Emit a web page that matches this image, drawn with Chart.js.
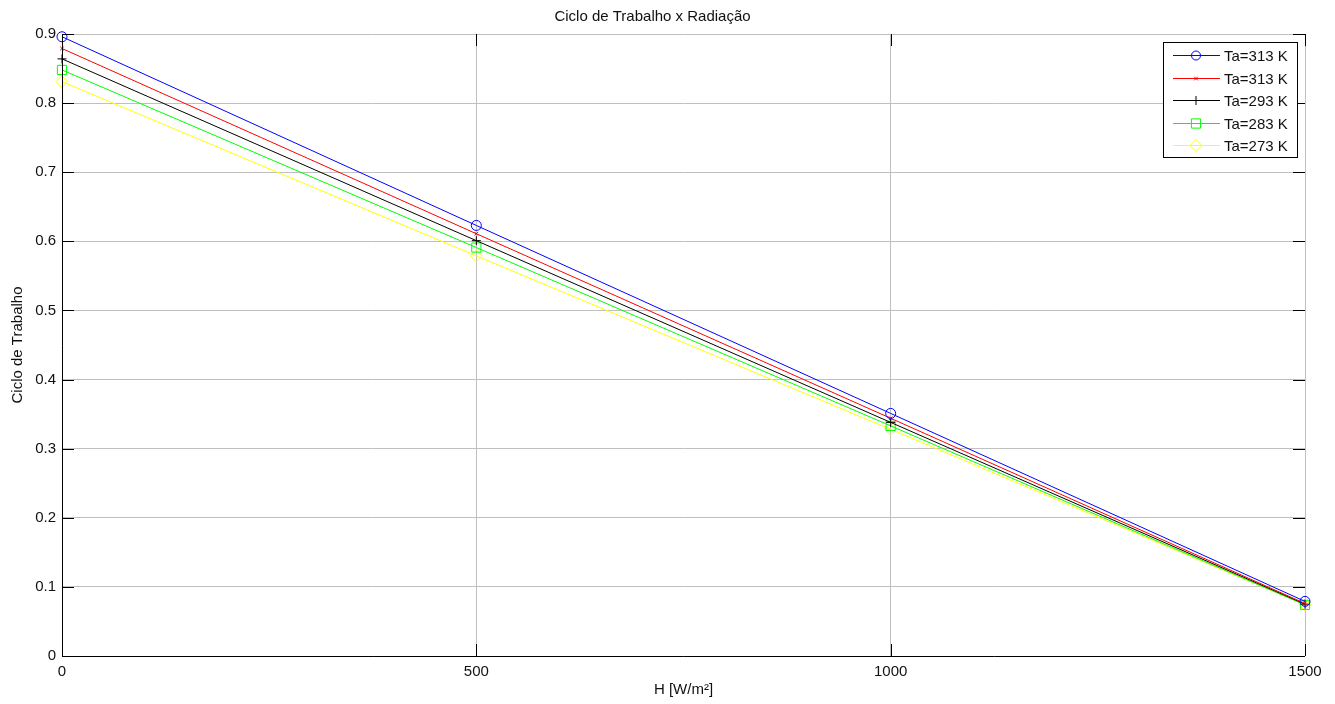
<!DOCTYPE html>
<html>
<head>
<meta charset="utf-8">
<script src="https://cdn.jsdelivr.net/npm/chart.js@4/dist/chart.umd.min.js"></script>
<style>
  html, body { margin: 0; padding: 0; background: #fff; }
  #wrap { width: 1335px; height: 704px; }
</style>
</head>
<body>
<div id="wrap"><canvas id="ciclo"></canvas></div>
<script>
// radiation levels (W/m2)
const hValues = [0, 500, 1000, 1500];

// duty cycle for each ambient temperature
const ta313a = [0.896, 0.623, 0.351, 0.079];
const ta313b = [0.879, 0.611, 0.344, 0.076];
const ta293 = [0.864, 0.601, 0.338, 0.075];
const ta283 = [0.848, 0.591, 0.333, 0.074];
const ta273 = [0.831, 0.579, 0.328, 0.074];

const seriesLabels = ['Ta=313 K', 'Ta=313 K', 'Ta=293 K', 'Ta=283 K', 'Ta=273 K'];
const xTicks = [0, 500, 1000, 1500];
const yTicks = [0, 0.1, 0.2, 0.3, 0.4, 0.5, 0.6, 0.7, 0.8, 0.9];

const FONT = '"Liberation Sans", Arial, Helvetica, sans-serif';

function toPoints(ys) {
  return hValues.map((h, i) => ({ x: h, y: ys[i] }));
}

const styles = [
  { color: '#0000ff', pointStyle: 'circle', radius: 5 },
  { color: '#ff0000', pointStyle: 'crossRot', radius: 2.5 },
  { color: '#000000', pointStyle: 'cross', radius: 4.5 },
  { color: '#00ff00', pointStyle: 'rect', radius: 6.5 },
  { color: '#ffff00', pointStyle: 'rectRot', radius: 6 }
];

const datasets = [ta313a, ta313b, ta293, ta283, ta273].map((ys, i) => ({
  label: seriesLabels[i],
  data: toPoints(ys),
  borderColor: styles[i].color,
  backgroundColor: 'rgba(0,0,0,0)',
  borderWidth: 1,
  pointStyle: styles[i].pointStyle,
  pointRadius: styles[i].radius,
  pointBorderWidth: 1,
  pointBorderColor: styles[i].color,
  pointBackgroundColor: 'rgba(0,0,0,0)',
  tension: 0,
  clip: false
}));

// inward tick marks on all four sides, MATLAB style
const innerTicks = {
  id: 'innerTicks',
  afterDraw(chart) {
    const { ctx, chartArea: a, scales } = chart;
    const len = 12;
    ctx.save();
    ctx.strokeStyle = '#000';
    ctx.lineWidth = 1;
    ctx.beginPath();
    xTicks.forEach(v => {
      const px = Math.round(scales.x.getPixelForValue(v)) + 0.5;
      ctx.moveTo(px, a.bottom); ctx.lineTo(px, a.bottom - len);
      ctx.moveTo(px, a.top); ctx.lineTo(px, a.top + len);
    });
    yTicks.forEach(v => {
      const py = Math.round(scales.y.getPixelForValue(v)) + 0.5;
      ctx.moveTo(a.left, py); ctx.lineTo(a.left + len, py);
      ctx.moveTo(a.right, py); ctx.lineTo(a.right - len, py);
    });
    ctx.stroke();
    // black axes on left and bottom
    ctx.beginPath();
    ctx.moveTo(a.left + 0.5, a.top);
    ctx.lineTo(a.left + 0.5, a.bottom + 0.5);
    ctx.lineTo(a.right, a.bottom + 0.5);
    ctx.stroke();
    ctx.restore();
  }
};

// boxed legend with line + marker samples
const boxLegend = {
  id: 'boxLegend',
  afterDraw(chart) {
    const { ctx } = chart;
    const x0 = 1163, y0 = 42, w = 134, h = 115;
    ctx.save();
    ctx.fillStyle = '#fff';
    ctx.fillRect(x0, y0, w, h);
    ctx.strokeStyle = '#000';
    ctx.lineWidth = 1;
    ctx.strokeRect(x0 + 0.5, y0 + 0.5, w, h);
    ctx.font = '15px ' + FONT;
    ctx.textBaseline = 'middle';
    chart.data.datasets.forEach((ds, i) => {
      const y = Math.round(y0 + 13 + i * 22.5) + 0.5;
      ctx.strokeStyle = ds.borderColor;
      ctx.beginPath();
      ctx.moveTo(x0 + 10, y);
      ctx.lineTo(x0 + 57, y);
      ctx.stroke();
      ctx.fillStyle = 'rgba(0,0,0,0)';
      Chart.helpers.drawPoint(ctx, {
        pointStyle: ds.pointStyle,
        radius: ds.pointStyle === 'circle' ? 4.5 : ds.pointRadius,
        borderWidth: 1,
        rotation: 0
      }, x0 + 33, y);
      ctx.fillStyle = '#111';
      ctx.fillText(ds.label, x0 + 61, y + 1);
    });
    ctx.restore();
  }
};

new Chart(document.getElementById('ciclo'), {
  type: 'line',
  data: { datasets },
  options: {
    responsive: true,
    maintainAspectRatio: false,
    animation: false,
    events: [],
    layout: { padding: { top: 0, right: 30, left: 0, bottom: 0 } },
    plugins: {
      legend: { display: false },
      tooltip: { enabled: false },
      title: {
        display: true,
        text: 'Ciclo de Trabalho x Radiação',
        color: '#111',
        font: { family: FONT, size: 15, weight: 'normal' },
        padding: { top: 8, bottom: 8 }
      }
    },
    scales: {
      x: {
        type: 'linear',
        min: 0,
        max: 1500,
        afterBuildTicks(scale) { scale.ticks = xTicks.map(v => ({ value: v })); },
        afterFit(scale) { scale.height = 48; },
        ticks: {
          color: '#111',
          padding: 7,
          font: { family: FONT, size: 15 },
          maxRotation: 0,
          callback: v => String(v)
        },
        grid: { color: '#c0c0c0', drawTicks: false },
        border: { display: false },
        title: {
          display: true,
          text: 'H [W/m²]',
          color: '#111',
          font: { family: FONT, size: 15 },
          padding: { top: 0, bottom: 5 }
        }
      },
      y: {
        type: 'linear',
        min: 0,
        max: 0.9,
        afterBuildTicks(scale) { scale.ticks = yTicks.map(v => ({ value: v })); },
        afterFit(scale) { scale.width = 62; },
        ticks: {
          color: '#111',
          padding: 6,
          font: { family: FONT, size: 15 },
          callback: v => String(Math.round(v * 10) / 10)
        },
        grid: { color: '#c0c0c0', drawTicks: false },
        border: { display: false },
        title: {
          display: true,
          text: 'Ciclo de Trabalho',
          color: '#111',
          font: { family: FONT, size: 15 },
          padding: { top: 9, bottom: 0 }
        }
      }
    }
  },
  plugins: [innerTicks, boxLegend]
});
</script>
</body>
</html>
